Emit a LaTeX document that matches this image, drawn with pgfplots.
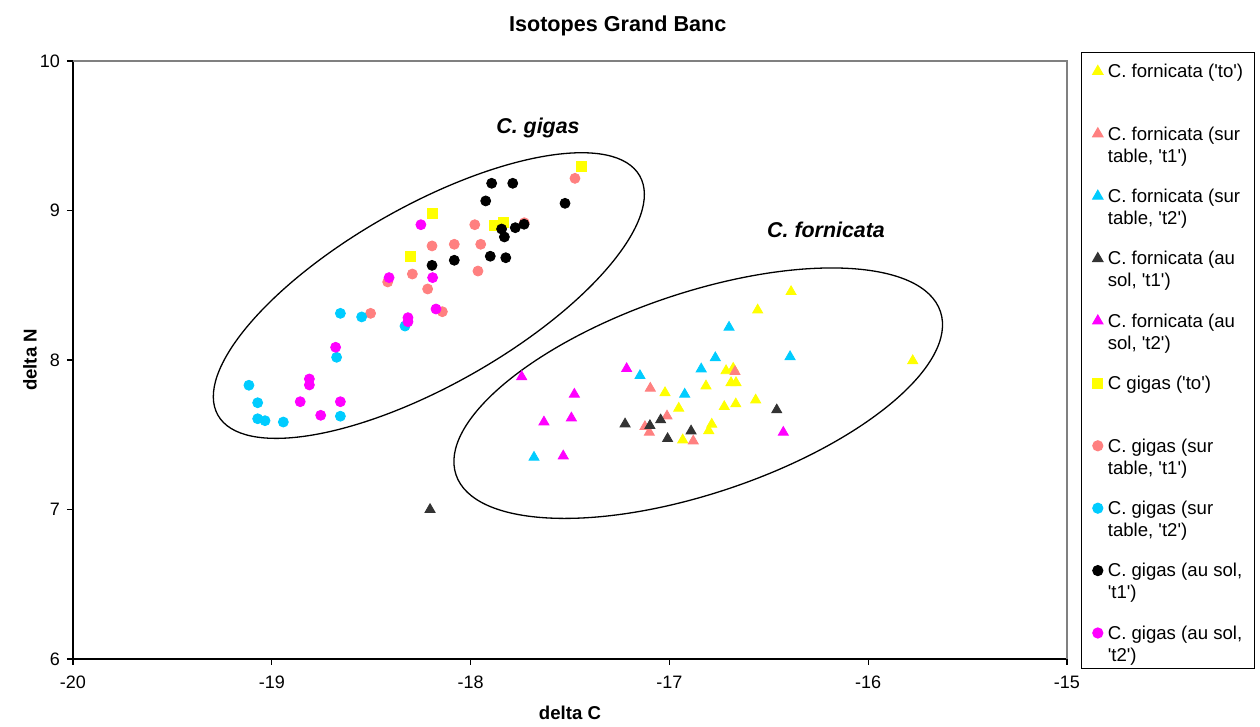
\documentclass[border=0pt]{standalone}
\usepackage{fontspec}
\setmainfont{Liberation Sans}[Ligatures=TeXOff]
\usepackage{pgfplots}
\pgfplotsset{compat=1.18}

\definecolor{cYel}{HTML}{FFFF00}
\definecolor{cSal}{HTML}{FF8080}
\definecolor{cCya}{HTML}{00CCFF}
\definecolor{cDrk}{HTML}{333333}
\definecolor{cMag}{HTML}{FF00FF}
\definecolor{cFrame}{HTML}{808080}

\newcommand{\lfont}{\fontsize{9.3}{11}\selectfont}
\newcommand{\two}[2]{\begin{tabular}[t]{@{}l@{}}#1\\#2\end{tabular}}

\pgfplotsset{
  tri/.style={/tikz/only marks, mark=triangle*, mark size=2.9pt, mark options={draw=#1, fill=#1}},
  dot/.style={/tikz/only marks, mark=*, mark size=2.5pt, mark options={draw=#1, fill=#1}},
  sqr/.style={/tikz/only marks, mark=square*, mark size=2.5pt, mark options={draw=#1, fill=#1}},
}

\begin{document}
\begin{tikzpicture}
\useasboundingbox (-36.5pt,-34pt) rectangle (593.5pt,329.5pt);
\begin{axis}[
  at={(0pt,0pt)}, anchor=south west,
  scale only axis, width=497pt, height=299pt,
  xmin=-20, xmax=-15, ymin=6, ymax=10,
  xtick={-20,-19,-18,-17,-16,-15}, ytick={6,7,8,9,10},
  axis x line*=bottom, axis y line*=left,
  axis line style={black, line width=0.7pt},
  tick align=outside, major tick length=3pt,
  tick style={black, line width=0.6pt},
  /pgf/number format/assume math mode=true,
  ticklabel style={font=\fontsize{9}{11}\selectfont},
  xticklabel style={yshift=-2pt},
  xlabel={delta C}, ylabel={delta N},
  xlabel style={at={(axis description cs:0.5,-0.0903)}, anchor=center, font=\lfont\bfseries},
  ylabel style={at={(axis description cs:-0.0433,0.5)}, anchor=center, font=\lfont\bfseries},
  title={Isotopes Grand Banc},
  title style={at={(axis description cs:0.548,1.038)}, anchor=center, font=\fontsize{10.8}{13}\selectfont\bfseries},
  clip=false,
  legend image code/.code={\draw[#1] plot coordinates {(0pt,3.2pt)};},
  legend style={at={(1,1)}, anchor=north west, xshift=7pt, yshift=4.5pt,
    draw=black, line width=0.6pt, fill=white,
    inner xsep=5.6pt, inner ysep=6.1pt, row sep=16.2pt, column sep=2.5pt,
    font=\lfont, cells={anchor=base west},
    nodes={text height=6.5pt, text depth=8.5pt, inner sep=0pt}},
]
\draw[cFrame, line width=0.6pt] (rel axis cs:0,1) -- (rel axis cs:1,1) -- (rel axis cs:1,0);

% C. fornicata
\addplot[tri=cYel] table {
-16.388 8.457
-16.556 8.334
-15.776 7.995
-16.715 7.928
-16.679 7.944
-16.690 7.848
-16.665 7.848
-16.816 7.826
-17.022 7.781
-16.953 7.677
-16.724 7.688
-16.666 7.706
-16.566 7.732
-16.787 7.570
-16.802 7.527
-16.933 7.465
};
\addlegendentry{C. fornicata ('to')}

\addplot[tri=cSal] table {
-16.670 7.922
-17.096 7.811
-17.012 7.625
-17.123 7.554
-17.101 7.516
-16.880 7.458
};
\addlegendentry{\two{C. fornicata (sur}{table, 't1')}}

\addplot[tri=cCya] table {
-16.700 8.219
-16.769 8.015
-16.393 8.022
-16.840 7.940
-17.148 7.895
-16.923 7.771
-17.681 7.349
};
\addlegendentry{\two{C. fornicata (sur}{table, 't2')}}

\addplot[tri=cDrk] table {
-17.223 7.572
-17.098 7.561
-17.044 7.599
-16.891 7.525
-17.009 7.474
-16.460 7.666
-18.204 7.000
};
\addlegendentry{\two{C. fornicata (au}{sol, 't1')}}

\addplot[tri=cMag] table {
-17.743 7.888
-17.215 7.942
-17.478 7.771
-17.631 7.585
-17.493 7.612
-17.534 7.358
-16.427 7.516
};
\addlegendentry{\two{C. fornicata (au}{sol, 't2')}}

% C. gigas
\addplot[sqr=cYel] table {
-17.445 9.298
-18.191 8.981
-18.305 8.691
-17.882 8.901
-17.835 8.923
};
\addlegendentry{C gigas ('to')}

\addplot[dot=cSal] table {
-17.475 9.215
-17.979 8.905
-17.730 8.918
-18.194 8.763
-18.082 8.774
-17.949 8.774
-17.963 8.595
-18.293 8.575
-18.417 8.522
-18.216 8.475
-18.503 8.312
-18.142 8.323
};
\addlegendentry{\two{C. gigas (sur}{table, 't1')}}

\addplot[dot=cCya] table {
-18.655 8.312
-18.548 8.288
-18.330 8.227
-18.674 8.018
-19.115 7.831
-19.071 7.714
-19.071 7.607
-19.034 7.594
-18.942 7.585
-18.655 7.624
};
\addlegendentry{\two{C. gigas (sur}{table, 't2')}}

\addplot[dot=black] table {
-17.894 9.182
-17.788 9.182
-17.924 9.064
-17.525 9.048
-17.844 8.876
-17.775 8.885
-17.731 8.908
-17.830 8.823
-18.194 8.633
-18.082 8.667
-17.901 8.694
-17.823 8.684
};
\addlegendentry{\two{C. gigas (au sol,}{'t1')}}

\addplot[dot=cMag] table {
-18.250 8.905
-18.410 8.551
-18.191 8.551
-18.174 8.341
-18.315 8.283
-18.315 8.256
-18.679 8.085
-18.811 7.873
-18.811 7.833
-18.857 7.721
-18.655 7.721
-18.754 7.630
};
\addlegendentry{\two{C. gigas (au sol,}{'t2')}}

% group outlines and labels
\draw[black, line width=0.65pt, rotate around={29.57:(axis cs:-18.210,8.431)}]
  (axis cs:-18.210,8.431) ellipse [x radius=121.25pt, y radius=44.8pt];
\draw[black, line width=0.65pt, rotate around={18.63:(axis cs:-16.855,7.778)}]
  (axis cs:-16.855,7.778) ellipse [x radius=127.8pt, y radius=50.1pt];
\node[font=\fontsize{10.7}{13}\selectfont\bfseries\itshape] at (axis cs:-17.661,9.552) {C. gigas};
\node[font=\fontsize{10.7}{13}\selectfont\bfseries\itshape] at (axis cs:-16.212,8.870) {C. fornicata};
\end{axis}
\end{tikzpicture}
\end{document}
